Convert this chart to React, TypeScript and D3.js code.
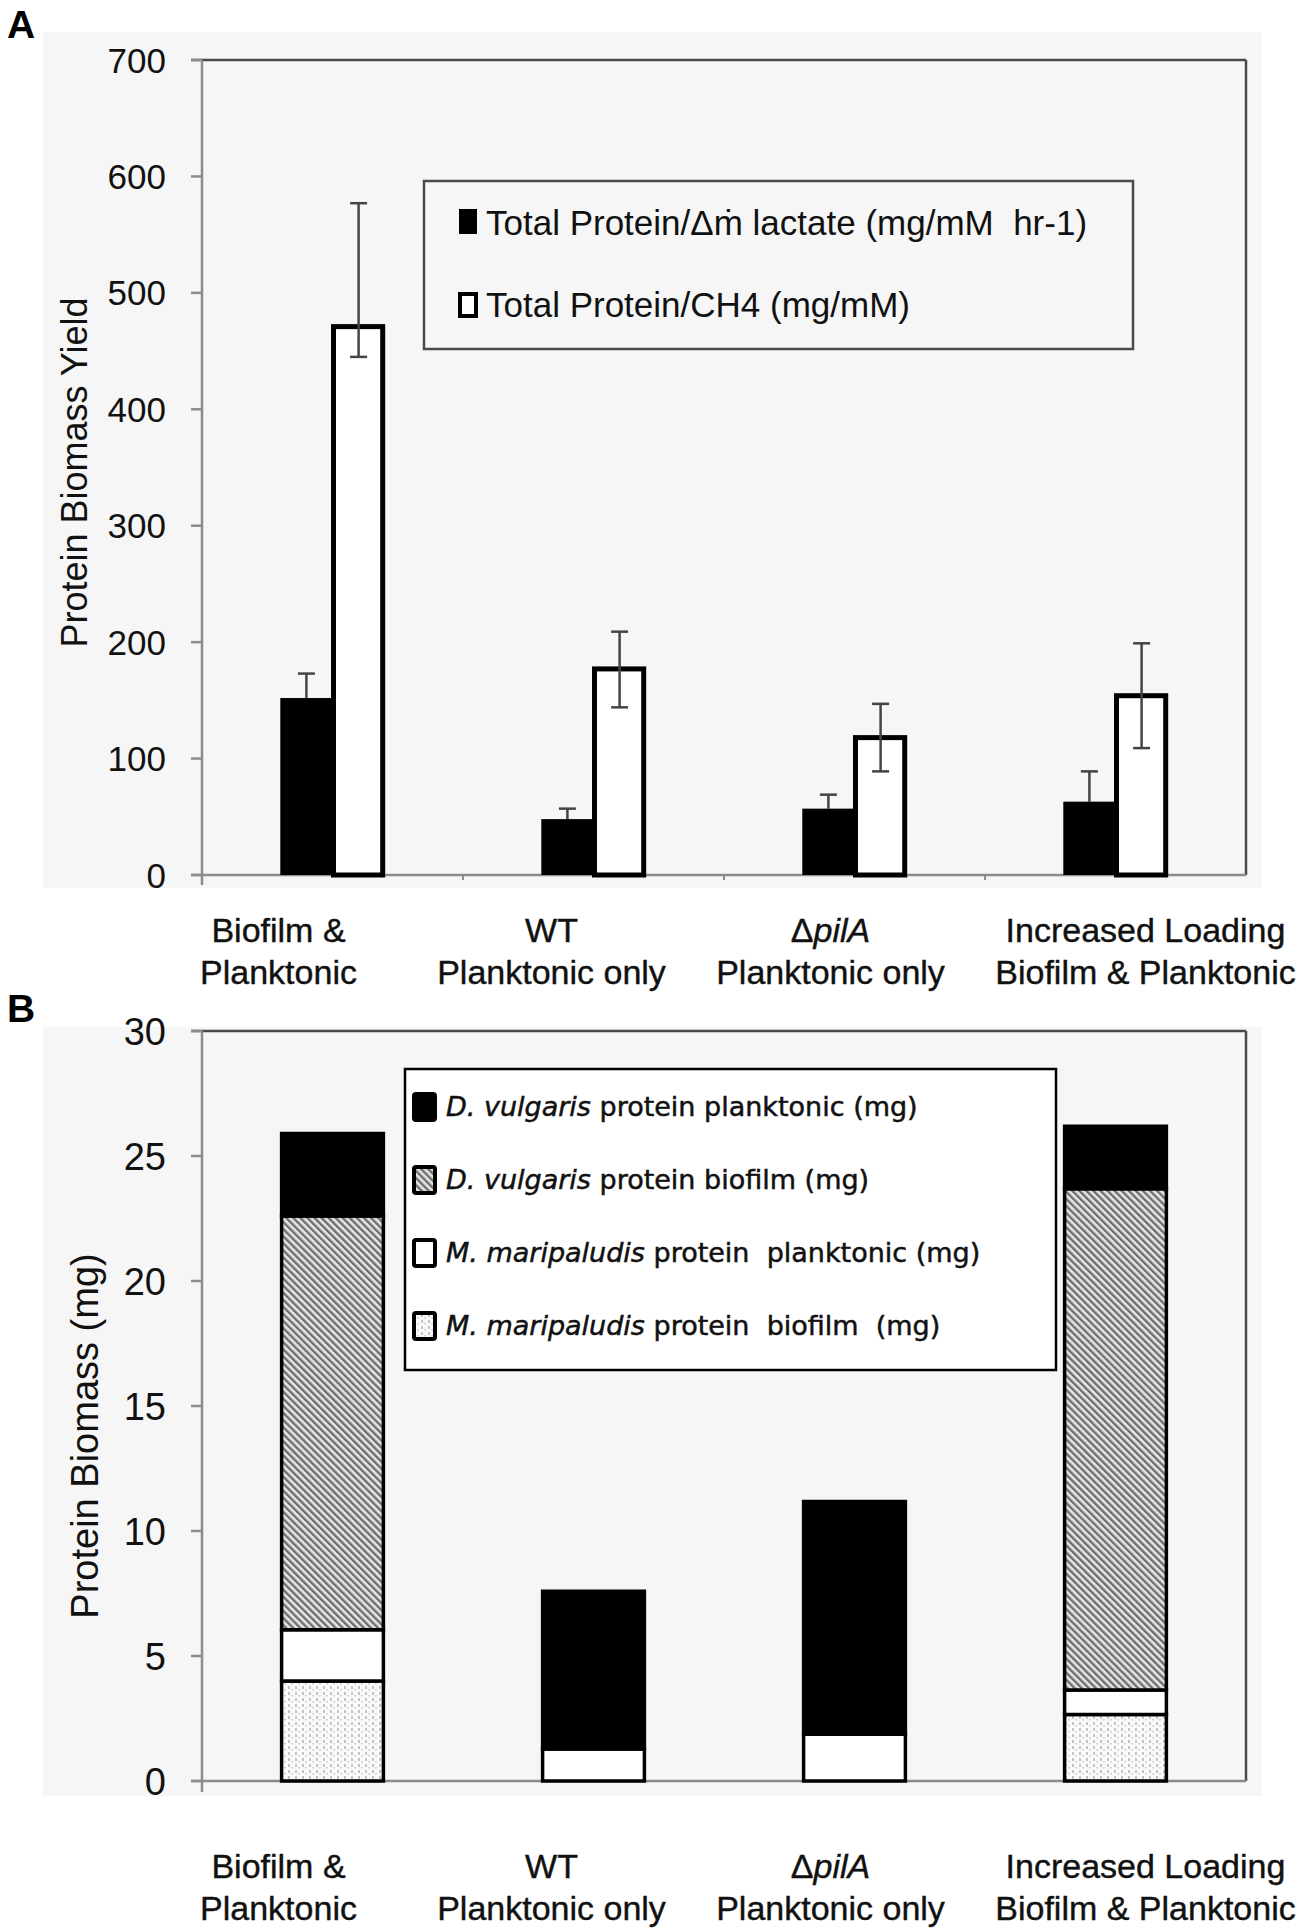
import * as d3 from 'd3';

// categories shared by both panels
const categories = ['Biofilm & Planktonic', 'WT Planktonic only', 'ΔpilA Planktonic only', 'Increased Loading Biofilm & Planktonic'];

// panel A: protein biomass yield
const lactateYield = [152, 48, 57, 63];
const lactateErr = [21, 9, 12, 26];
const ch4Yield = [471, 177, 118, 154];
const ch4ErrLow = [26, 33, 29, 45];
const ch4ErrHigh = [106, 32, 29, 45];
const ticksA = [0, 100, 200, 300, 400, 500, 600, 700];
const seriesA = ['Total Protein/Δṁ lactate (mg/mM\u00a0\u00a0hr-1)', 'Total Protein/CH4 (mg/mM)'];

// panel B: protein biomass (mg), stacked bottom -> top
const mmBiofilm = [4.0, 0, 0, 2.66];
const mmPlanktonic = [2.05, 1.28, 1.87, 0.98];
const dvBiofilm = [16.55, 0, 0, 20.05];
const dvPlanktonic = [3.3, 6.31, 9.31, 2.5];
const ticksB = [0, 5, 10, 15, 20, 25, 30];
const stackKeys = ['mmBiofilm', 'mmPlanktonic', 'dvBiofilm', 'dvPlanktonic'];
const legendB = [
  { key: 'dvPlanktonic', sp: 'D. vulgaris', rest: ' protein planktonic (mg)' },
  { key: 'dvBiofilm', sp: 'D. vulgaris', rest: ' protein biofilm (mg)' },
  { key: 'mmPlanktonic', sp: 'M. maripaludis', rest: ' protein\u00a0 planktonic (mg)' },
  { key: 'mmBiofilm', sp: 'M. maripaludis', rest: ' protein\u00a0 biofilm\u00a0 (mg)' },
];

// x labels are hand placed in the original, slightly off the bar centres
const labelShift = [-54, -42, -24, 30];

const W = 1300;
const H = 1930;
const left = 202;
const right = 1246;
const font = 'Liberation Sans, Arial, sans-serif';

const fills: Record<string, string> = {
  dvPlanktonic: '#000',
  dvBiofilm: 'url(#hatch)',
  mmPlanktonic: '#fff',
  mmBiofilm: 'url(#dots)',
};

const XLabel = ({ i, x, y }: { i: number; x: number; y: number }) => {
  const lines: JSX.Element[][] = [
    [<tspan key="a">Biofilm &amp;</tspan>, <tspan key="b">Planktonic</tspan>],
    [<tspan key="a">WT</tspan>, <tspan key="b">Planktonic only</tspan>],
    [
      <tspan key="a">
        Δ<tspan fontStyle="italic">pilA</tspan>
      </tspan>,
      <tspan key="b">Planktonic only</tspan>,
    ],
    [<tspan key="a">Increased Loading</tspan>, <tspan key="b">Biofilm &amp; Planktonic</tspan>],
  ];
  return (
    <g fontFamily={font} fontSize={34} textAnchor="middle" fill="#111" stroke="#111" strokeWidth={0.4}>
      <text x={x} y={y}>{lines[i][0]}</text>
      <text x={x} y={y + 42}>{lines[i][1]}</text>
    </g>
  );
};

const App = () => {
  // ---------- panel A ----------
  const topA = 60;
  const botA = 875;
  const xA = d3.scaleBand<string>().domain(categories).range([left, right]).padding(0);
  const bw = xA.bandwidth();
  const xA1 = d3.scaleBand<number>().domain([0, 1]).range([bw * 0.3, bw * 0.7]).padding(0);
  const yA = d3.scaleLinear().domain([0, 700]).range([botA, topA]);

  // ---------- panel B ----------
  const topB = 1031;
  const botB = 1781;
  const yB = d3.scaleLinear().domain([0, 30]).range([botB, topB]);
  const barB = bw * 0.39;
  const table = categories.map((c, i) => ({
    cat: c,
    mmBiofilm: mmBiofilm[i],
    mmPlanktonic: mmPlanktonic[i],
    dvBiofilm: dvBiofilm[i],
    dvPlanktonic: dvPlanktonic[i],
  }));
  const stacked = d3.stack<any>().keys(stackKeys)(table);

  const axisGrey = '#8c8c8c';
  const frame = '#4a4a4a';

  return (
    <svg width={W} height={H} style={{ position: 'absolute', left: 0, top: 0, background: '#fff' }}>
      <defs>
        <pattern id="hatch" width={5} height={5} patternUnits="userSpaceOnUse" patternTransform="rotate(-45)">
          <rect width={5} height={5} fill="#e6e6e6" />
          <rect width={2.4} height={5} fill="#6e6e6e" />
        </pattern>
        <pattern id="dots" width={7} height={6} patternUnits="userSpaceOnUse">
          <rect width={7} height={6} fill="#fafafa" />
          <rect x={1} y={0} width={2} height={3} fill="#c4c4c4" />
          <rect x={4} y={3} width={2} height={1.5} fill="#d2d2d2" />
        </pattern>
      </defs>

      {/* faint scanned backgrounds */}
      <rect x={43} y={32} width={1219} height={856} fill="#f6f6f6" />
      <rect x={43} y={1027} width={1219} height={769} fill="#f6f6f6" />

      {/* ===== Panel A ===== */}
      <text x={7} y={38} fontFamily={font} fontWeight="bold" fontSize={39}>A</text>

      {/* frame */}
      <line x1={191} x2={right} y1={topA} y2={topA} stroke={frame} strokeWidth={2.5} />
      <line x1={right} x2={right} y1={topA} y2={botA} stroke={frame} strokeWidth={2.5} />
      <line x1={left} x2={left} y1={topA} y2={botA + 10} stroke={axisGrey} strokeWidth={2.5} />
      <line x1={191} x2={right} y1={botA} y2={botA} stroke={axisGrey} strokeWidth={2.5} />
      {ticksA.map((t) => (
        <g key={t}>
          <line x1={191} x2={left} y1={yA(t)} y2={yA(t)} stroke={axisGrey} strokeWidth={2.5} />
          <text x={166} y={yA(t)} dy="0.36em" textAnchor="end" fontFamily={font} fontSize={35} fill="#111">
            {t}
          </text>
        </g>
      ))}
      {categories.slice(1).map((c) => (
        <line key={c} x1={xA(c)!} x2={xA(c)!} y1={botA} y2={botA + 5} stroke={axisGrey} strokeWidth={2} />
      ))}
      <text
        transform={`translate(74,${(topA + botA) / 2 + 5}) rotate(-90)`}
        textAnchor="middle"
        dy="0.36em"
        fontFamily={font}
        fontSize={36}
        fill="#111"
      >
        Protein Biomass Yield
      </text>

      {/* black series: error bars sit behind the bar */}
      {categories.map((c, i) => {
        const cx = xA(c)! + xA1(0)! + xA1.bandwidth() / 2;
        const hi = yA(lactateYield[i] + lactateErr[i]);
        return (
          <g key={c} stroke="#444" strokeWidth={2.5}>
            <line x1={cx} x2={cx} y1={hi} y2={yA(lactateYield[i])} />
            <line x1={cx - 8.5} x2={cx + 8.5} y1={hi} y2={hi} />
          </g>
        );
      })}
      {categories.map((c, i) => (
        <rect
          key={c}
          x={xA(c)! + xA1(0)!}
          y={yA(lactateYield[i])}
          width={xA1.bandwidth()}
          height={botA - yA(lactateYield[i])}
          fill="#000"
        />
      ))}
      {categories.map((c, i) => (
        <rect
          key={c}
          x={xA(c)! + xA1(1)! + 1}
          y={yA(ch4Yield[i])}
          width={xA1.bandwidth() - 3}
          height={botA - yA(ch4Yield[i])}
          fill="#fff"
          stroke="#000"
          strokeWidth={5}
        />
      ))}
      {categories.map((c, i) => {
        const cx = xA(c)! + xA1(1)! + xA1.bandwidth() / 2;
        const hi = yA(ch4Yield[i] + ch4ErrHigh[i]);
        const lo = yA(ch4Yield[i] - ch4ErrLow[i]);
        return (
          <g key={c} stroke="#444" strokeWidth={2.5}>
            <line x1={cx} x2={cx} y1={hi} y2={lo} />
            <line x1={cx - 8.5} x2={cx + 8.5} y1={hi} y2={hi} />
            <line x1={cx - 8.5} x2={cx + 8.5} y1={lo} y2={lo} />
          </g>
        );
      })}

      {/* legend A */}
      <rect x={424} y={181} width={709} height={168} fill="none" stroke={frame} strokeWidth={2.5} />
      <rect x={459} y={209} width={18} height={25} fill="#000" />
      <rect x={460} y={294} width={16} height={22} fill="#fff" stroke="#000" strokeWidth={4} />
      <g fontFamily={font} fontSize={35} fill="#111">
        <text x={486} y={235}>{seriesA[0]}</text>
        <text x={486} y={317}>{seriesA[1]}</text>
      </g>

      {categories.map((c, i) => (
        <XLabel key={c} i={i} x={xA(c)! + bw / 2 + labelShift[i]} y={942} />
      ))}

      {/* ===== Panel B ===== */}
      <text x={7} y={1022} fontFamily={font} fontWeight="bold" fontSize={39}>B</text>

      <line x1={191} x2={right} y1={topB} y2={topB} stroke={frame} strokeWidth={2.5} />
      <line x1={right} x2={right} y1={topB} y2={botB} stroke={frame} strokeWidth={2.5} />
      <line x1={left} x2={left} y1={topB} y2={botB + 11} stroke={axisGrey} strokeWidth={2.5} />
      <line x1={191} x2={right} y1={botB} y2={botB} stroke={axisGrey} strokeWidth={2.5} />
      {ticksB.map((t) => (
        <g key={t}>
          <line x1={191} x2={left} y1={yB(t)} y2={yB(t)} stroke={axisGrey} strokeWidth={2.5} />
          <text x={166} y={yB(t)} dy="0.36em" textAnchor="end" fontFamily={font} fontSize={38} fill="#111">
            {t}
          </text>
        </g>
      ))}
      <text
        transform={`translate(84,${(topB + botB) / 2 + 30}) rotate(-90)`}
        textAnchor="middle"
        dy="0.36em"
        fontFamily={font}
        fontSize={38}
        fill="#111"
      >
        Protein Biomass (mg)
      </text>

      {stacked.map((layer) => (
        <g key={layer.key}>
          {layer.map((d, i) =>
            d[1] - d[0] > 0 ? (
              <rect
                key={i}
                x={xA(categories[i])! + bw / 2 - barB / 2}
                y={yB(d[1])}
                width={barB}
                height={yB(d[0]) - yB(d[1])}
                fill={fills[layer.key]}
                stroke="#000"
                strokeWidth={3.5}
              />
            ) : null
          )}
        </g>
      ))}

      {/* legend B */}
      <rect x={405} y={1069} width={651} height={301} fill="#fff" stroke="#000" strokeWidth={2.5} />
      {legendB.map((l, i) => {
        const cy = 1107 + i * 73;
        return (
          <g key={l.key}>
            <rect
              x={414}
              y={cy - 13}
              width={21}
              height={26}
              rx={2}
              fill={fills[l.key]}
              stroke="#000"
              strokeWidth={4}
            />
            <text
              x={446}
              y={cy + 9}
              fontFamily="DejaVu Sans, sans-serif"
              fontSize={27}
              fill="#111"
              stroke="#111"
              strokeWidth={0.5}
            >
              <tspan fontStyle="italic">{l.sp}</tspan>
              {l.rest}
            </text>
          </g>
        );
      })}

      {categories.map((c, i) => (
        <XLabel key={c} i={i} x={xA(c)! + bw / 2 + labelShift[i]} y={1878} />
      ))}
    </svg>
  );
};

export default App;
